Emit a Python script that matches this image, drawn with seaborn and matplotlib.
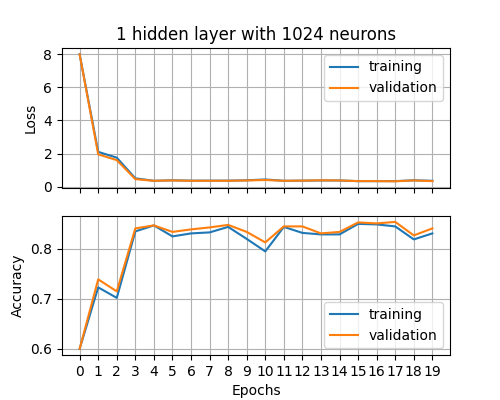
import numpy as np
import pandas as pd
import seaborn as sns
import matplotlib
matplotlib.use("Agg")
import matplotlib.pyplot as plt

epochs = list(range(20))
loss_train = [8.0, 2.1, 1.75, 0.5, 0.35, 0.38, 0.36, 0.36, 0.36, 0.38, 0.43, 0.35, 0.36, 0.37, 0.37, 0.33, 0.33, 0.33, 0.38, 0.35]
loss_val = [8.0, 1.95, 1.6, 0.45, 0.35, 0.37, 0.35, 0.35, 0.35, 0.37, 0.40, 0.35, 0.36, 0.38, 0.37, 0.33, 0.33, 0.32, 0.37, 0.33]
acc_train = [0.600, 0.723, 0.702, 0.835, 0.847, 0.825, 0.831, 0.833, 0.844, 0.820, 0.795, 0.844, 0.832, 0.829, 0.829, 0.850, 0.849, 0.845, 0.819, 0.831]
acc_val = [0.600, 0.739, 0.715, 0.841, 0.847, 0.834, 0.839, 0.843, 0.848, 0.834, 0.813, 0.845, 0.845, 0.831, 0.834, 0.853, 0.851, 0.854, 0.827, 0.841]

fig, (ax1, ax2) = plt.subplots(2, 1, sharex=True, figsize=(5, 4), dpi=100)
fig.subplots_adjust(left=0.124, right=0.9, top=0.88, bottom=0.112, hspace=0.2)

sns.lineplot(x=epochs, y=loss_train, ax=ax1, label="training")
sns.lineplot(x=epochs, y=loss_val, ax=ax1, label="validation")
sns.lineplot(x=epochs, y=acc_train, ax=ax2, label="training")
sns.lineplot(x=epochs, y=acc_val, ax=ax2, label="validation")

ax1.set_title("1 hidden layer with 1024 neurons")
ax1.set_ylabel("Loss")
ax2.set_ylabel("Accuracy")
ax2.set_xlabel("Epochs")
ax2.set_xticks(epochs)
ax1.set_yticks([0, 2, 4, 6, 8])
ax2.set_yticks([0.6, 0.7, 0.8])
for ax in (ax1, ax2):
    ax.grid(True)
ax1.legend(loc="upper right")
ax2.legend(loc="lower right")

fig.savefig("out.png")
